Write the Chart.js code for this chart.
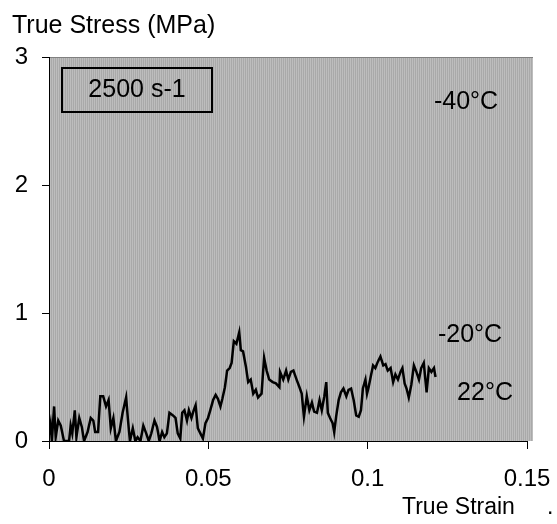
<!DOCTYPE html>
<html>
<head>
<meta charset="utf-8">
<script src="https://cdn.jsdelivr.net/npm/chart.js@4/dist/chart.umd.min.js"></script>
<style>
    html, body { margin: 0; padding: 0; background: #fff; }
    #wrap { width: 557px; height: 524px; }
</style>
</head>
<body>
<div id="wrap"><canvas id="stress-chart" width="557" height="524"></canvas></div>
<script>
// True strain / true stress trace (2500 s-1)
const strain = [
    0.0000, 0.0005, 0.0009, 0.0016, 0.0021, 0.0029, 0.0037, 0.0042, 0.0047, 0.0063,
    0.0068, 0.0073, 0.0081, 0.0086, 0.0095, 0.0103, 0.0110, 0.0121, 0.0131, 0.0139,
    0.0145, 0.0154, 0.0161, 0.0170, 0.0179, 0.0187, 0.0194, 0.0202, 0.0210, 0.0221,
    0.0231, 0.0242, 0.0248, 0.0254, 0.0263, 0.0271, 0.0278, 0.0287, 0.0296, 0.0305,
    0.0313, 0.0321, 0.0331, 0.0339, 0.0347, 0.0355, 0.0362, 0.0370, 0.0378, 0.0389,
    0.0397, 0.0404, 0.0412, 0.0418, 0.0425, 0.0433, 0.0439, 0.0447, 0.0454, 0.0460,
    0.0467, 0.0475, 0.0483, 0.0491, 0.0499, 0.0506, 0.0515, 0.0523, 0.0530, 0.0538,
    0.0544, 0.0552, 0.0559, 0.0567, 0.0573, 0.0580, 0.0588, 0.0597, 0.0602, 0.0609,
    0.0618, 0.0625, 0.0633, 0.0641, 0.0649, 0.0656, 0.0667, 0.0675, 0.0683, 0.0691,
    0.0702, 0.0712, 0.0723, 0.0725, 0.0735, 0.0744, 0.0751, 0.0759, 0.0767, 0.0777,
    0.0786, 0.0793, 0.0800, 0.0809, 0.0817, 0.0825, 0.0832, 0.0841, 0.0849, 0.0856,
    0.0864, 0.0870, 0.0875, 0.0882, 0.0890, 0.0895, 0.0901, 0.0909, 0.0916, 0.0924,
    0.0933, 0.0940, 0.0948, 0.0956, 0.0964, 0.0972, 0.0979, 0.0985, 0.0993, 0.0998,
    0.1003, 0.1011, 0.1017, 0.1024, 0.1032, 0.1040, 0.1049, 0.1056, 0.1063, 0.1072,
    0.1080, 0.1087, 0.1095, 0.1103, 0.1109, 0.1116, 0.1122, 0.1129, 0.1137, 0.1145,
    0.1153, 0.1161, 0.1168, 0.1176, 0.1185, 0.1192, 0.1200, 0.1208, 0.1213
];
const stress = [
    0.05, 0.13, 0.00, 0.27, 0.03, 0.16, 0.12, 0.06, 0.00, 0.00,
    0.12, 0.06, 0.24, 0.03, 0.18, 0.11, 0.00, 0.07, 0.18, 0.16,
    0.07, 0.07, 0.35, 0.35, 0.27, 0.32, 0.10, 0.18, 0.00, 0.07,
    0.22, 0.34, 0.16, 0.00, 0.10, 0.00, 0.03, 0.00, 0.12, 0.06,
    0.00, 0.06, 0.16, 0.11, 0.00, 0.07, 0.03, 0.06, 0.22, 0.20,
    0.18, 0.06, 0.02, 0.22, 0.24, 0.16, 0.24, 0.18, 0.24, 0.28,
    0.10, 0.06, 0.02, 0.14, 0.18, 0.24, 0.32, 0.36, 0.33, 0.27,
    0.33, 0.42, 0.55, 0.57, 0.61, 0.78, 0.76, 0.85, 0.71, 0.70,
    0.58, 0.46, 0.48, 0.37, 0.40, 0.34, 0.37, 0.65, 0.55, 0.48,
    0.46, 0.45, 0.42, 0.54, 0.48, 0.55, 0.48, 0.54, 0.55, 0.48,
    0.42, 0.37, 0.19, 0.35, 0.24, 0.30, 0.23, 0.22, 0.32, 0.24,
    0.35, 0.46, 0.22, 0.18, 0.14, 0.07, 0.19, 0.32, 0.38, 0.41,
    0.35, 0.40, 0.41, 0.32, 0.20, 0.19, 0.24, 0.41, 0.48, 0.37,
    0.42, 0.52, 0.59, 0.57, 0.62, 0.66, 0.59, 0.60, 0.55, 0.57,
    0.46, 0.52, 0.48, 0.54, 0.57, 0.45, 0.41, 0.34, 0.44, 0.59,
    0.54, 0.48, 0.57, 0.61, 0.38, 0.57, 0.54, 0.57, 0.50
];
const xTicks = [0, 0.05, 0.1, 0.15];
const yTicks = [0, 1, 2, 3];
const rateLabel = "2500 s-1";
const tempLabels = ["-40°C", "-20°C", "22°C"];

const FONT = "Arial, 'Liberation Sans', sans-serif";

function stripePattern(ctx) {
    const c = document.createElement("canvas");
    c.width = 2;
    c.height = 1;
    const p = c.getContext("2d");
    p.fillStyle = "#bdbdbd";
    p.fillRect(0, 0, 1, 1);
    p.fillStyle = "#a9a9a9";
    p.fillRect(1, 0, 1, 1);
    return ctx.createPattern(c, "repeat");
}

// gray striped plot background + top border
const plotBackground = {
    id: "plotBackground",
    beforeDraw(chart) {
        const { ctx, chartArea } = chart;
        const right = chartArea.right + 6;
        ctx.save();
        ctx.fillStyle = stripePattern(ctx);
        ctx.fillRect(chartArea.left, chartArea.top, right - chartArea.left, chartArea.bottom - chartArea.top);
        ctx.strokeStyle = "#808080";
        ctx.lineWidth = 1;
        ctx.beginPath();
        ctx.moveTo(chartArea.left, chartArea.top + 0.5);
        ctx.lineTo(right, chartArea.top + 0.5);
        ctx.stroke();
        ctx.restore();
    }
};

// axis titles, rate box and temperature notes
const annotations = {
    id: "annotations",
    afterDraw(chart) {
        const ctx = chart.ctx;
        ctx.save();
        ctx.fillStyle = "#000";
        ctx.textBaseline = "alphabetic";
        ctx.textAlign = "left";
        ctx.font = "25px " + FONT;
        ctx.fillText("True Stress (MPa)", 12, 33);
        ctx.font = "23px " + FONT;
        ctx.fillText("True Strain", 402, 514);
        ctx.fillText(".", 547, 514);

        ctx.font = "25px " + FONT;
        ctx.strokeStyle = "#000";
        ctx.lineWidth = 2;
        ctx.strokeRect(62, 68, 150, 44);
        ctx.textAlign = "center";
        ctx.fillText(rateLabel, 137, 97);

        ctx.fillText(tempLabels[0], 466, 109);
        ctx.fillText(tempLabels[1], 470, 342);
        ctx.fillText(tempLabels[2], 485, 400);
        ctx.restore();
    }
};

function initStressChart() {
    const points = strain.map((s, i) => ({ x: s, y: stress[i] }));
    const context = document.getElementById("stress-chart").getContext("2d");

    const settings = {
        type: "line",
        data: {
            datasets: [{
                label: rateLabel,
                data: points,
                borderColor: "#000",
                backgroundColor: "#000",
                borderWidth: 2.5,
                pointRadius: 0,
                tension: 0,
                fill: false
            }]
        },
        options: {
            responsive: false,
            animation: false,
            layout: { padding: { top: 57, right: 30, left: 0, bottom: 0 } },
            plugins: {
                legend: { display: false },
                tooltip: { enabled: false }
            },
            scales: {
                x: {
                    type: "linear",
                    min: 0,
                    max: 0.15,
                    afterBuildTicks: (axis) => { axis.ticks = xTicks.map(v => ({ value: v })); },
                    afterFit: (axis) => {
                        axis.height = 83;
                        axis.paddingLeft = 0;
                        axis.paddingRight = 0;
                    },
                    grid: { drawOnChartArea: false, drawTicks: true, tickLength: 8, color: "#000" },
                    border: { display: true, color: "#000", width: 1 },
                    ticks: {
                        color: "#000",
                        font: { size: 24, family: FONT },
                        padding: 16,
                        maxRotation: 0,
                        callback: (v) => String(v)
                    }
                },
                y: {
                    min: 0,
                    max: 3,
                    afterBuildTicks: (axis) => { axis.ticks = yTicks.map(v => ({ value: v })); },
                    afterFit: (axis) => {
                        axis.width = 49;
                        axis.paddingTop = 0;
                        axis.paddingBottom = 0;
                    },
                    grid: { drawOnChartArea: false, drawTicks: true, tickLength: 7, color: "#000" },
                    border: { display: true, color: "#000", width: 1 },
                    ticks: {
                        color: "#000",
                        font: { size: 24, family: FONT },
                        padding: 14,
                        callback: (v) => String(v)
                    }
                }
            }
        },
        plugins: [plotBackground, annotations]
    };

    return new Chart(context, settings);
}

initStressChart();
</script>
</body>
</html>
